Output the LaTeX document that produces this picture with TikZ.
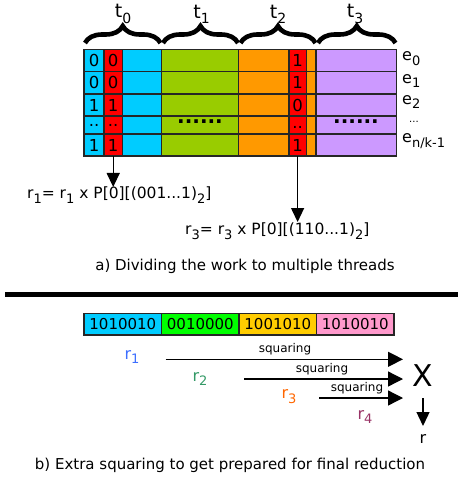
\documentclass[tikz,border=0pt]{standalone}
\usepackage{fontspec}
\setmainfont{DejaVu Sans}
\usetikzlibrary{arrows.meta,decorations.pathreplacing}
\definecolor{cblue}{RGB}{0,204,255}
\definecolor{cred}{RGB}{255,0,0}
\definecolor{cgreen}{RGB}{153,204,0}
\definecolor{corange}{RGB}{255,153,0}
\definecolor{cpurple}{RGB}{204,153,255}
\definecolor{bblue}{RGB}{0,204,255}
\definecolor{bgreen}{RGB}{0,255,0}
\definecolor{bgold}{RGB}{255,204,0}
\definecolor{bpink}{RGB}{255,153,204}
\definecolor{rone}{RGB}{60,110,255}
\definecolor{rtwo}{RGB}{51,153,102}
\definecolor{rthree}{RGB}{255,102,0}
\definecolor{rfour}{RGB}{153,51,102}
\newcommand{\lowsub}[1]{\raisebox{-0.55ex}{\fontsize{13}{13}\selectfont #1}}
\newcommand{\tsub}[1]{\raisebox{-0.5ex}{\fontsize{14}{14}\selectfont #1}}
\begin{document}
\begin{tikzpicture}[x=1pt,y=-1pt,
  grid/.style={draw=black!85,line width=1.3pt},
  cell/.style={inner sep=0pt,font=\fontsize{16.5}{16.5}\selectfont},
  lbl/.style={inner sep=0pt,font=\fontsize{15.5}{15.5}\selectfont},
  tlbl/.style={inner sep=0pt,font=\fontsize{19}{19}\selectfont},
  thbrace/.style={line width=4.6pt,decorate,decoration={brace,amplitude=17pt}},
  bigarrow/.style={line width=1.3pt,-{Triangle[width=13pt,length=14pt]}},
  sqarrow/.style={line width=1.3pt,-{Triangle[width=15pt,length=15pt]}},
  sqlbl/.style={inner sep=0pt,font=\fontsize{12}{12}\selectfont},
  bar/.style={draw=black!85,line width=1.3pt,minimum height=21.7pt,inner sep=0pt,font=\fontsize{15}{15}\selectfont}]
\useasboundingbox (0,0) rectangle (458,478);
% ---- table fills
\fill[cblue] (84,49.3) rectangle (161.7,156);
\fill[cred] (104,49.3) rectangle (122.3,156);
\fill[cgreen] (161.7,49.3) rectangle (238.7,156);
\fill[corange] (238.7,49.3) rectangle (316,156);
\fill[cred] (289,49.3) rectangle (306.3,156);
\fill[cpurple] (316,49.3) rectangle (396.7,156);
% grid lines
\foreach \y in {71.7,94,116,134} \draw[grid] (84,\y) -- (396.7,\y);
\foreach \x in {104,122.3,161.7,238.7,289,306.3,316} \draw[grid] (\x,49.3) -- (\x,156);
\draw[grid] (84,49.3) rectangle (396.7,156);
% cell texts
\node[cell] (a1) at (94,60.5) {0};
\node[cell] (a2) at (94,82.8) {0};
\node[cell] (a3) at (94,105) {1};
\node[cell] (a4) at (94,125) {..};
\node[cell] (a5) at (94,145) {1};
\node[cell] (b1) at (113.2,60.5) {0};
\node[cell] (b2) at (113.2,82.8) {0};
\node[cell] (b3) at (113.2,105) {1};
\node[cell] (b4) at (113.2,125) {..};
\node[cell] (b5) at (113.2,145) {1};
\node[cell] (c1) at (297.6,60.5) {1};
\node[cell] (c2) at (297.6,82.8) {1};
\node[cell] (c3) at (297.6,105) {0};
\node[cell] (c4) at (297.6,127.5) {..};
\node[cell] (c5) at (297.6,145) {1};
\node[cell,font=\fontsize{20}{20}\selectfont\bfseries] (gd) at (200,122) {......};
\node[cell,font=\fontsize{20}{20}\selectfont\bfseries] (pd) at (356,122) {......};
% e labels
\node[lbl,anchor=west,font=\fontsize{16}{16}\selectfont] (e0) at (402,59) {e\lowsub{0}};
\node[lbl,anchor=west,font=\fontsize{16}{16}\selectfont] (e1) at (402,81) {e\lowsub{1}};
\node[lbl,anchor=west,font=\fontsize{16}{16}\selectfont] (e2) at (402,102) {e\lowsub{2}};
\node[lbl,anchor=west,font=\fontsize{10}{10}\selectfont] (ed) at (409,122) {...};
\node[lbl,anchor=west,font=\fontsize{16}{16}\selectfont] (en) at (402,141) {e\lowsub{n/k-1}};
% braces and thread labels
\draw[thbrace] (85,43) -- (160.5,43);
\draw[thbrace] (163,43) -- (238,43);
\draw[thbrace] (240.5,43) -- (315.5,43);
\draw[thbrace] (318,43) -- (395.5,43);
\node[tlbl] (t0) at (123,14) {t\tsub{0}};
\node[tlbl] (t1) at (201.5,14) {t\tsub{1}};
\node[tlbl] (t2) at (278,14) {t\tsub{2}};
\node[tlbl] (t3) at (355,14) {t\tsub{3}};
% formulas
\coordinate (s1) at (113.2,156);
\coordinate (s2) at (297.6,156);
\node[lbl,anchor=west] (f1) at (27,195) {r\lowsub{1}= r\lowsub{1} x P[0][(001...1)\lowsub{2}]};
\node[lbl,anchor=west] (f2) at (185,231) {r\lowsub{3}= r\lowsub{3} x P[0][(110...1)\lowsub{2}]};
\coordinate (h1) at (113.2,187);
\coordinate (h2) at (297.6,222);
\draw[bigarrow] (s1) -- (h1);
\draw[bigarrow] (s2) -- (h2);
\node[lbl,font=\fontsize{15}{15}\selectfont] (capa) at (245,266) {a) Dividing the work to multiple threads};
% separator
\fill[black] (5,292) rectangle (458,297.3);
% bar
\node[bar,fill=bblue,minimum width=77.7pt] (w1) at (122.85,324.2) {1010010};
\node[bar,fill=bgreen,minimum width=77.3pt] (w2) at (200.35,324.2) {0010000};
\node[bar,fill=bgold,minimum width=77.7pt] (w3) at (277.85,324.2) {1001010};
\node[bar,fill=bpink,minimum width=77.3pt] (w4) at (355.35,324.2) {1010010};
% r labels
\node[lbl,text=rone,font=\fontsize{16}{16}\selectfont] (r1) at (132,357) {r\lowsub{1}};
\node[lbl,text=rtwo,font=\fontsize{16}{16}\selectfont] (r2) at (200,379) {r\lowsub{2}};
\node[lbl,text=rthree,font=\fontsize{16}{16}\selectfont] (r3) at (289,397) {r\lowsub{3}};
\node[lbl,text=rfour,font=\fontsize{16}{16}\selectfont] (r4) at (365,417) {r\lowsub{4}};
% X and result
\node[inner sep=0pt,font=\fontsize{30}{30}\selectfont] (X) at (423,376) {X};
\node[lbl,font=\fontsize{16}{16}\selectfont] (rr) at (423,439) {r};
\coordinate (q1s) at (165.7,359.3);
\coordinate (q2s) at (244,379);
\coordinate (q3s) at (319,398);
\coordinate (q1e) at (403,359.3);
\coordinate (q2e) at (403,379);
\coordinate (q3e) at (403,398);
\draw[sqarrow] (q1s) -- (q1e);
\draw[sqarrow] (q2s) -- (q2e);
\draw[sqarrow] (q3s) -- (q3e);
\node[sqlbl] (l1) at (285,349) {squaring};
\node[sqlbl] (l2) at (322,369) {squaring};
\node[sqlbl] (l3) at (357,388) {squaring};
\coordinate (xd) at (423,398);
\coordinate (xe) at (423,426);
\draw[bigarrow] (xd) -- (xe);
\node[lbl,font=\fontsize{15}{15}\selectfont] (capb) at (230,465) {b) Extra squaring to get prepared for final reduction};
\end{tikzpicture}
\end{document}
